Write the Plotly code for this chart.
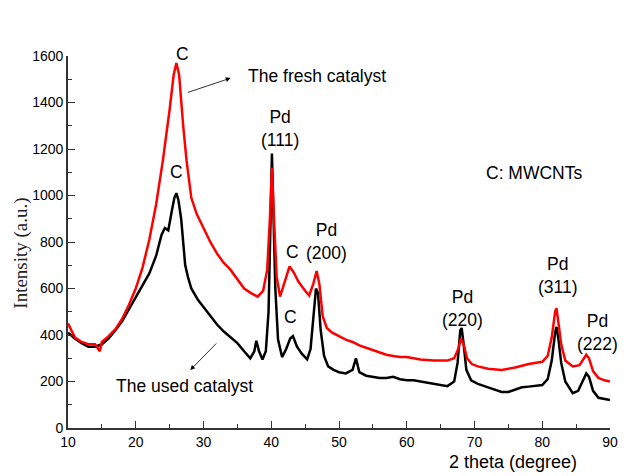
import plotly.graph_objects as go

# ---- data ----
used_x = [10, 11, 12, 13, 14, 15, 16, 17, 18, 19, 20, 21, 22, 23, 23.8, 24.3, 24.8, 25.3, 25.7, 26.0,
          26.3, 26.7, 27.0, 27.3, 27.7, 28.2, 29.2, 30, 31, 32, 33, 34, 35, 36, 36.9, 37.5, 37.8, 38.2,
          38.7, 39.2, 39.6, 39.9, 40.1, 40.3, 40.6, 41.0, 41.6, 42.2, 42.8, 43.2, 43.8, 44.5, 45.3, 45.8,
          46.2, 46.6, 46.9, 47.3, 47.8, 48.4, 49.2, 50, 51, 52, 52.5, 53, 54, 55, 56, 57, 58, 59, 60, 61,
          62, 63, 64, 65, 66, 67, 67.5, 67.9, 68.1, 68.4, 68.8, 69.5, 70.5, 72, 74, 75, 76, 77, 78, 79,
          80, 80.8, 81.4, 81.9, 82.1, 82.4, 82.8, 83.4, 84.5, 85.3, 86.0, 86.5, 86.9, 87.5, 88.3, 89.2, 90]
used_y = [410, 385, 365, 350, 350, 360, 385, 420, 460, 510, 560, 610, 665, 740, 830, 860, 850, 930, 990, 1010,
          980, 900, 800, 700, 650, 600, 550, 520, 480, 445, 415, 390, 365, 330, 300, 330, 375, 330,
          295, 330, 500, 900, 1180, 950, 600, 380, 305, 340, 385, 395, 350, 320, 295, 340,
          480, 600, 580, 420, 310, 265, 250, 240, 235, 250, 300, 240, 225, 220, 215, 215, 220, 210, 205, 205,
          200, 195, 190, 185, 180, 200, 280, 420, 430, 360, 250, 205, 190, 175, 155, 155, 165, 175, 178, 180,
          185, 210, 290, 410, 435, 380, 280, 200, 150, 160, 200, 235, 220, 160, 130, 125, 120]

fresh_x = [10, 11, 12, 13, 14, 14.7, 15, 16, 17, 18, 19, 20, 21, 22, 23, 24, 25, 25.6, 26.0, 26.4,
           27.0, 27.5, 28.2, 29, 30, 31, 32, 33, 34, 35, 36, 37, 38, 38.8, 39.4, 39.8, 40.1, 40.4, 40.8,
           41.3, 42, 42.7, 43.3, 44, 45, 45.6, 46.2, 46.7, 47.1, 47.6, 48.2, 49, 50, 51, 52, 53, 54, 55,
           56, 57, 58, 59, 60, 62, 64, 66, 67, 67.6, 68.0, 68.4, 68.9, 69.6, 70.5, 72, 74, 76, 78, 79, 80,
           80.8, 81.4, 81.9, 82.1, 82.4, 82.8, 83.4, 84.5, 85.5, 86.0, 86.5, 86.9, 87.5, 88.3, 89.2, 90]
fresh_y = [450, 390, 370, 360, 360, 330, 370, 395, 425, 470, 530, 600, 690, 810, 960, 1150, 1370, 1520, 1570, 1520,
           1300, 1150, 990, 920, 860, 800, 750, 710, 680, 640, 600, 580, 565, 590, 680, 900, 1120, 900, 650,
           565, 630, 695, 670, 630, 590, 570, 620, 675, 620, 480, 430, 410, 395, 380, 370, 355, 345, 335,
           325, 315, 310, 305, 305, 295, 290, 290, 300, 340, 385, 360, 300, 275, 265, 255, 250, 260, 275, 280, 285,
           310, 390, 500, 515, 450, 360, 290, 265, 270, 290, 315, 300, 245, 215, 205, 200]

x_ticks = [10, 20, 30, 40, 50, 60, 70, 80, 90]
y_ticks = [0, 200, 400, 600, 800, 1000, 1200, 1400, 1600]

# labels: (text, x, y)
labels = [
    ("C", 26.0, 1100),
    ("Pd<br>(111)", 41.3, 1290),
    ("C", 43.2, 757),
    ("Pd<br>(200)", 48.1, 804),
    ("C", 42.9, 477),
    ("Pd<br>(220)", 68.3, 516),
    ("Pd<br>(311)", 82.3, 654),
    ("Pd<br>(222)", 88.1, 409),
    ("C: MWCNTs", 78.8, 1097),
]

SANS = "Liberation Sans, Arial, sans-serif"
FS = 17.5

# plot area in pixels (for paper-referenced text)
L, R, T, B = 68, 618, 56, 428


def px(xp):
    return (xp - L) / (R - L)


def py(yp):
    return (B - yp) / (B - T)


fig = go.Figure()
fig.add_trace(go.Scatter(x=used_x, y=used_y, mode="lines", name="The used catalyst",
                         line=dict(color="#000000", width=2.5)))
fig.add_trace(go.Scatter(x=fresh_x, y=fresh_y, mode="lines", name="The fresh catalyst",
                         line=dict(color="#ff0000", width=2.5)))

for text, x, y in labels:
    fig.add_annotation(x=x, y=y, text=text, showarrow=False,
                       font=dict(family=SANS, size=FS, color="#000"))

# the top "C" sits above the axis range -> paper coordinates
fig.add_annotation(x=px(176), y=py(42), xref="paper", yref="paper", text="C", showarrow=False,
                   font=dict(family=SANS, size=FS, color="#000"))

# arrows and captions
fig.add_annotation(x=36.2, y=1514, text="The fresh catalyst", showarrow=False, xanchor="left",
                   font=dict(family=SANS, size=FS, color="#000"))
fig.add_annotation(x=34.0, y=1505, ax=27.45, ay=1441, axref="x", ayref="y", text="",
                   showarrow=True, arrowhead=2, arrowsize=1.2, arrowwidth=0.8, arrowcolor="#000")
fig.add_annotation(x=27.2, y=180, text="The used catalyst", showarrow=False,
                   font=dict(family=SANS, size=FS, color="#000"))
fig.add_annotation(x=28.04, y=249, ax=32.1, ay=370, axref="x", ayref="y", text="",
                   showarrow=True, arrowhead=2, arrowsize=1.2, arrowwidth=0.8, arrowcolor="#000")

# axis titles
fig.add_annotation(x=px(520), y=py(462), xref="paper", yref="paper", text="2 theta (degree)",
                   showarrow=False, xanchor="center", yanchor="middle",
                   font=dict(family=SANS, size=18, color="#000"))
fig.add_annotation(x=px(20), y=py(253), xref="paper", yref="paper",
                   text="Intensity (a.u.)", textangle=-90, showarrow=False,
                   xanchor="center", yanchor="middle",
                   font=dict(family="Liberation Serif, Times New Roman, serif", size=19, color="#222"))

axis_common = dict(showline=True, linecolor="#333333", linewidth=1.6, ticks="inside", ticklen=7,
                   tickwidth=1.4, tickcolor="#333333", showgrid=False, zeroline=False,
                   tickfont=dict(family=SANS, size=14, color="#000"), mirror=False)

fig.update_xaxes(range=[10, 90], tickvals=x_ticks,
                 minor=dict(dtick=5, tick0=0, ticks="inside", ticklen=4, tickwidth=1.2,
                            tickcolor="#333333"),
                 **axis_common)
fig.update_yaxes(range=[0, 1600], tickvals=y_ticks,
                 minor=dict(dtick=100, tick0=0, ticks="inside", ticklen=4, tickwidth=1.2,
                            tickcolor="#333333"),
                 **axis_common)

fig.update_layout(width=627, height=476, margin=dict(l=L, r=627 - R, t=T, b=476 - B),
                  paper_bgcolor="white", plot_bgcolor="white", showlegend=False)

fig.write_html("out.html")
